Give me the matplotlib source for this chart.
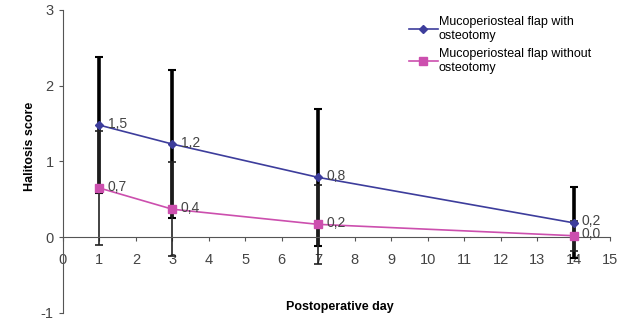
import numpy as np
import matplotlib.pyplot as plt

plt.rcParams['font.family'] = ['Liberation Sans', 'DejaVu Sans']
plt.rcParams['axes.unicode_minus'] = False

# Data
days = [1, 3, 7, 14]
with_ost = [1.48, 1.23, 0.79, 0.19]
with_ost_err = [0.90, 0.98, 0.90, 0.47]
without_ost = [0.65, 0.37, 0.17, 0.02]
without_ost_err = [0.75, 0.62, 0.52, 0.2]
labels_with = ['1,5', '1,2', '0,8', '0,2']
labels_without = ['0,7', '0,4', '0,2', '0,0']

blue = '#3d3d9c'
pink = '#cc4fae'

fig = plt.figure(figsize=(6.29, 3.22), dpi=100)
ax = fig.add_axes([0.100, 0.028, 0.870, 0.941])

# error bars (blue series thick, pink series thin)
ax.errorbar(days, with_ost, yerr=with_ost_err, fmt='none', ecolor='black',
            elinewidth=2.6, capsize=3, capthick=1.5, zorder=2)
ax.errorbar(days, without_ost, yerr=without_ost_err, fmt='none', ecolor='#222222',
            elinewidth=1.2, capsize=3, capthick=1.2, zorder=2)

ax.plot(days, with_ost, color=blue, lw=1.2, marker='D', ms=4,
        label='Mucoperiosteal flap with\nosteotomy', zorder=3)
ax.plot(days, without_ost, color=pink, lw=1.2, marker='s', ms=6,
        label='Mucoperiosteal flap without\nosteotomy', zorder=3)

for x, y, t in zip(days, with_ost, labels_with):
    ax.annotate(t, (x, y), xytext=(6, 1), textcoords='offset points',
                fontsize=10, color='#444444', va='center', ha='left')
for x, y, t in zip(days, without_ost, labels_without):
    ax.annotate(t, (x, y), xytext=(6, 1), textcoords='offset points',
                fontsize=10, color='#444444', va='center', ha='left')

ax.set_xlim(0, 15)
ax.set_ylim(-1, 3)
ax.set_xticks(range(0, 16))
ax.set_yticks([-1, 0, 1, 2, 3])
ax.spines['top'].set_visible(False)
ax.spines['right'].set_visible(False)
ax.spines['bottom'].set_position(('data', 0))
for s in ['left', 'bottom']:
    ax.spines[s].set_color('#555555')
    ax.spines[s].set_linewidth(0.8)
ax.tick_params(axis='both', labelsize=10.5, colors='#555555', labelcolor='#444444',
               length=3, width=0.8)
ax.tick_params(axis='x', pad=8)

ax.set_ylabel('Halitosis score', fontsize=9, fontweight='bold')
ax.yaxis.set_label_coords(-0.05, 0.55)
ax.text(0.506, 0.02, 'Postoperative day', transform=ax.transAxes,
        fontsize=9, fontweight='bold', ha='center', va='center')

ax.legend(loc='upper left', bbox_to_anchor=(0.642, 0.965), bbox_transform=fig.transFigure,
          frameon=False, fontsize=9, handlelength=2.3, handletextpad=0.1,
          labelspacing=0.5, borderaxespad=0)

fig.savefig('out.png', dpi=100)
